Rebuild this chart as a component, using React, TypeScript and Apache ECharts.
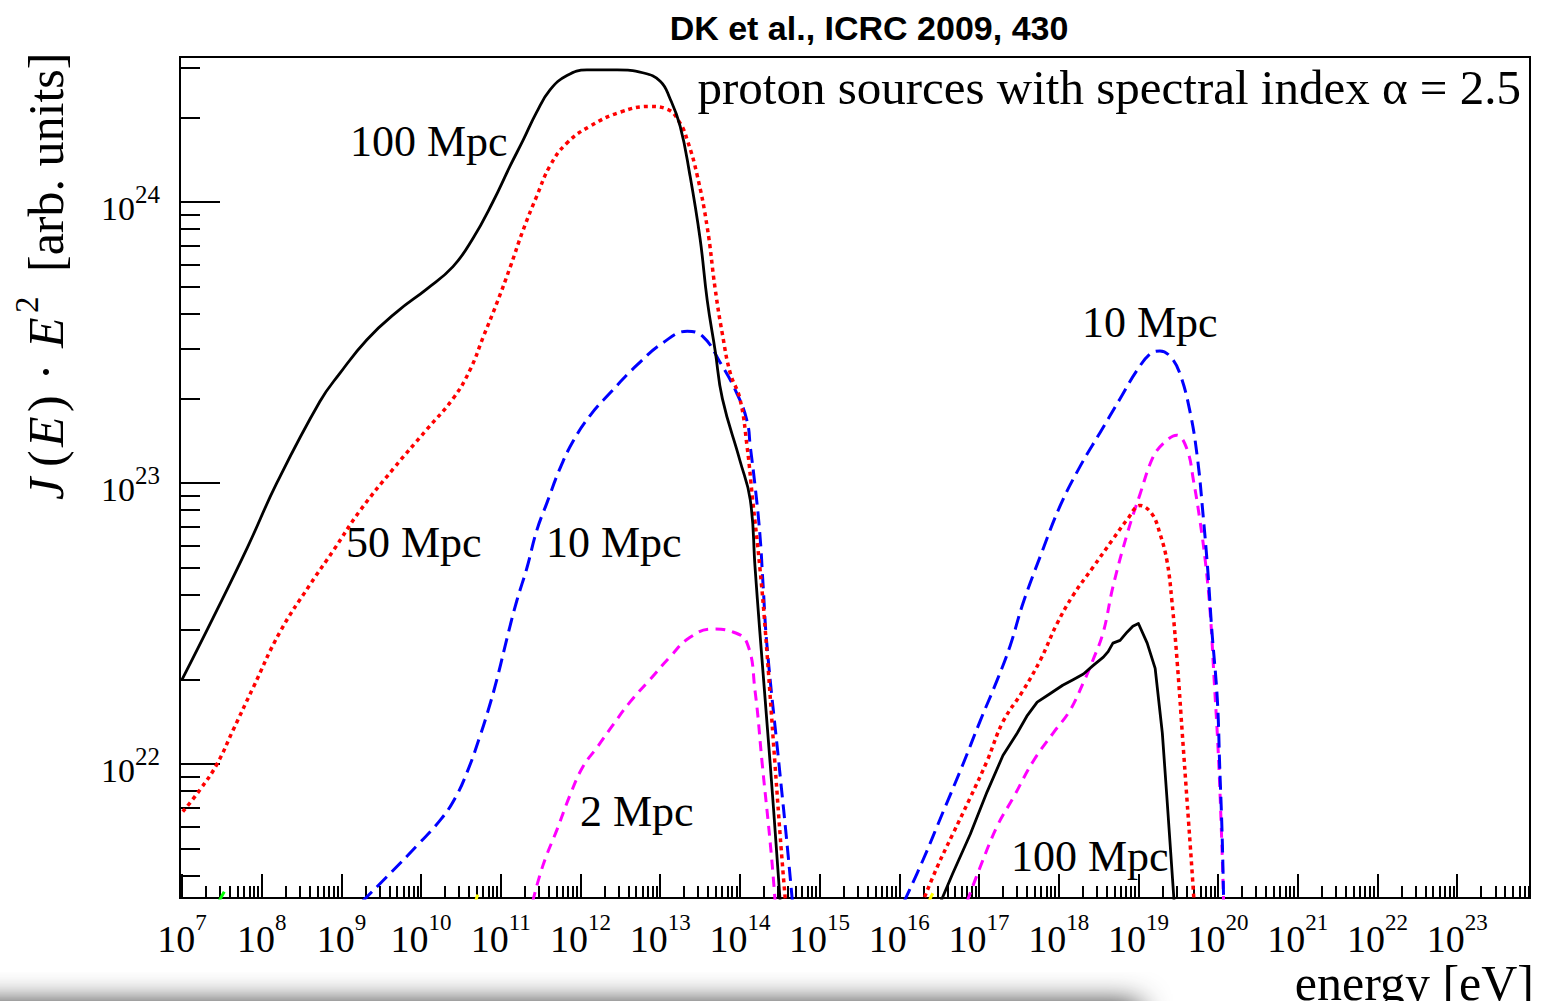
import React, { useEffect, useRef } from 'react';
import * as echarts from 'echarts';

// All curve points are [log10(E / eV), log10(J(E)·E² / arb. units)].
const black100Low: [number, number][] = [
  [7.0, 22.3], [7.39, 22.52], [7.82, 22.77], [8.19, 23.0], [8.73, 23.29], [8.98, 23.39],
  [9.32, 23.51], [9.7, 23.61], [10.07, 23.69], [10.4, 23.77], [10.65, 23.87], [10.9, 24.0], [11.12, 24.13],
  [11.28, 24.22], [11.45, 24.32], [11.62, 24.4], [11.83, 24.45], [12.08, 24.47], [12.46, 24.47],
  [12.78, 24.46], [13.0, 24.43], [13.12, 24.37], [13.25, 24.27], [13.37, 24.1], [13.5, 23.87],
  [13.59, 23.65], [13.69, 23.47], [13.78, 23.3], [14.0, 23.08], [14.13, 22.94], [14.19, 22.7],
  [14.25, 22.47], [14.38, 22.0], [14.46, 21.69], [14.52, 21.45],
];
const red50Low: [number, number][] = [
  [7.01, 21.83], [7.23, 21.91], [7.44, 22.0], [7.64, 22.12], [7.89, 22.27], [8.23, 22.47], [8.61, 22.64],
  [8.9, 22.76], [9.23, 22.9], [9.65, 23.05], [10.07, 23.19], [10.4, 23.3], [10.61, 23.4], [10.78, 23.52],
  [10.95, 23.64], [11.12, 23.77], [11.28, 23.9], [11.45, 24.02], [11.62, 24.13], [11.83, 24.21],
  [12.12, 24.27], [12.5, 24.32], [12.87, 24.34], [13.09, 24.33], [13.25, 24.28], [13.34, 24.22],
  [13.46, 24.1], [13.59, 23.91], [13.69, 23.69], [13.78, 23.53], [13.88, 23.39], [14.0, 23.3],
  [14.09, 23.13], [14.16, 22.94], [14.25, 22.7], [14.32, 22.47], [14.44, 22.0], [14.52, 21.69], [14.59, 21.45],
];
const blue10Low: [number, number][] = [
  [9.26, 21.51], [9.61, 21.61], [9.95, 21.71], [10.24, 21.8], [10.43, 21.88], [10.59, 21.98], [10.74, 22.1],
  [10.83, 22.18], [10.95, 22.3], [11.08, 22.45], [11.2, 22.58], [11.33, 22.7], [11.45, 22.83], [11.58, 22.93],
  [11.74, 23.05], [11.91, 23.15], [12.12, 23.24], [12.37, 23.32], [12.71, 23.42], [13.04, 23.5], [13.34, 23.54],
  [13.54, 23.52], [13.75, 23.43], [13.96, 23.32], [14.09, 23.22], [14.13, 23.13], [14.19, 22.99],
  [14.25, 22.82], [14.29, 22.64], [14.34, 22.42], [14.49, 22.0], [14.6, 21.69], [14.69, 21.41],
];
const magenta2Low: [number, number][] = [
  [11.4, 21.51], [11.53, 21.64], [11.71, 21.77], [11.87, 21.89], [12.03, 21.99], [12.21, 22.06],
  [12.41, 22.14], [12.62, 22.22], [12.87, 22.3], [13.12, 22.38], [13.37, 22.45], [13.66, 22.48],
  [13.91, 22.47], [14.09, 22.43], [14.19, 22.26], [14.28, 22.0], [14.39, 21.69], [14.45, 21.48],
];
const blue10High: [number, number][] = [
  [16.06, 21.51], [16.3, 21.66], [16.55, 21.83], [16.8, 22.0], [17.01, 22.15], [17.23, 22.3], [17.39, 22.42],
  [17.55, 22.57], [17.77, 22.74], [18.02, 22.92], [18.27, 23.06], [18.52, 23.18], [18.77, 23.3],
  [18.98, 23.4], [19.15, 23.46], [19.27, 23.47], [19.4, 23.45], [19.52, 23.39], [19.65, 23.25],
  [19.74, 23.09], [19.81, 22.89], [19.87, 22.69], [19.92, 22.48], [19.99, 22.23], [20.02, 21.99],
  [20.05, 21.75], [20.07, 21.5],
];
const magenta2High: [number, number][] = [
  [16.85, 21.51], [17.01, 21.63], [17.23, 21.78], [17.43, 21.88], [17.68, 22.01], [17.93, 22.11],
  [18.14, 22.19], [18.31, 22.29], [18.43, 22.37], [18.56, 22.47], [18.68, 22.63], [18.86, 22.82],
  [19.02, 22.96], [19.18, 23.09], [19.31, 23.14], [19.48, 23.17], [19.61, 23.12], [19.69, 23.01],
  [19.77, 22.87], [19.84, 22.72], [19.9, 22.54], [19.95, 22.3], [20.0, 22.05], [20.04, 21.77], [20.07, 21.5],
];
const red50High: [number, number][] = [
  [16.28, 21.5], [16.47, 21.63], [16.67, 21.75], [16.89, 21.88], [17.1, 22.01], [17.3, 22.15], [17.55, 22.26],
  [17.77, 22.37], [17.98, 22.5], [18.18, 22.6], [18.43, 22.7], [18.68, 22.8], [18.86, 22.87],
  [19.02, 22.92], [19.17, 22.89], [19.27, 22.82], [19.36, 22.72], [19.42, 22.58], [19.49, 22.35],
  [19.55, 22.11], [19.61, 21.87], [19.67, 21.63], [19.7, 21.5],
];
const black100High: [number, number][] = [
  [16.52, 21.51], [16.67, 21.61], [16.89, 21.75], [17.1, 21.9], [17.3, 22.03], [17.48, 22.11], [17.6, 22.17],
  [17.73, 22.22], [17.89, 22.25], [18.05, 22.28], [18.18, 22.3], [18.31, 22.32], [18.43, 22.35],
  [18.56, 22.38], [18.62, 22.4], [18.68, 22.43], [18.77, 22.44], [18.86, 22.47], [18.93, 22.49],
  [19.0, 22.5], [19.11, 22.43], [19.21, 22.34], [19.3, 22.11], [19.36, 21.87], [19.45, 21.5],
];
// tiny pieces of other curves just peeking above the lower frame
const greenStubs: ([number, number] | null)[] = [[7.44, 21.5], [7.53, 21.545]];
const yellowStubs: ([number, number] | null)[] = [[10.67, 21.5], [10.71, 21.535], null, [16.35, 21.5], [16.42, 21.54]];

// axes: exponents of ten
const xDecades = [7, 8, 9, 10, 11, 12, 13, 14, 15, 16, 17, 18, 19, 20, 21, 22, 23];
const yDecades = [22, 23, 24];
const X_MIN = 6.975;
const X_MAX = 23.913;
const Y_MIN = 21.523;
const Y_MAX = 24.516;

const curveLabels = [
  { text: '100 Mpc', x: 350, y: 141 },
  { text: '50 Mpc', x: 346, y: 542 },
  { text: '10 Mpc', x: 546, y: 542 },
  { text: '2 Mpc', x: 580, y: 811 },
  { text: '10 Mpc', x: 1082, y: 322 },
  { text: '100 Mpc', x: 1011, y: 856 },
];

const SERIF = '"Liberation Serif", "Times New Roman", serif';

function minorTicks(lo: number, hi: number): number[] {
  const out: number[] = [];
  for (let n = Math.floor(lo) - 1; n <= Math.ceil(hi); n++) {
    for (let k = 2; k <= 9; k++) {
      const v = n + Math.log10(k);
      if (v > lo && v < hi) out.push(v);
    }
  }
  return out;
}

function line(data: any[], color: string, width: number, type: any, smooth: number | boolean) {
  return {
    type: 'line',
    data,
    xAxisIndex: 0,
    yAxisIndex: 0,
    showSymbol: false,
    symbol: 'none',
    smooth,
    clip: true,
    connectNulls: false,
    silent: true,
    lineStyle: { color, width, type, cap: 'butt', join: 'round' },
  };
}

export default function App() {
  const ref = useRef<HTMLDivElement>(null);
  useEffect(() => {
    const chart = echarts.init(ref.current!, null, { renderer: 'svg' });
    const tickStyle = { color: '#000', width: 2 };
    const xRich = {
      b: { fontFamily: SERIF, fontSize: 38, lineHeight: 47, verticalAlign: 'bottom', color: '#000' },
      s: { fontFamily: SERIF, fontSize: 23, lineHeight: 24, verticalAlign: 'top', color: '#000' },
    };
    const yRich = {
      b: { fontFamily: SERIF, fontSize: 34, lineHeight: 44, verticalAlign: 'bottom', color: '#000' },
      s: { fontFamily: SERIF, fontSize: 25, lineHeight: 24, verticalAlign: 'top', color: '#000' },
    };
    const fmt = (v: number) => `{b|10}{s|${Math.round(v)}}`;
    const titleMid = -17;
    const txt = (text: string, x: number, y: number, font: string, align = 'left') => ({
      type: 'text', x, y, silent: true,
      style: { text, font, fill: '#000', textAlign: align, textVerticalAlign: 'middle', align, verticalAlign: 'middle' },
    });
    const option: any = {
      animation: false,
      backgroundColor: '#fff',
      grid: {
        left: 180, top: 57, width: 1350, height: 841,
        show: true, borderColor: '#000', borderWidth: 2, backgroundColor: 'transparent',
        containLabel: false, outerBoundsMode: 'none',
      },
      xAxis: [
        {
          type: 'value', position: 'bottom', min: X_MIN, max: X_MAX,
          axisLine: { show: true, onZero: false, lineStyle: { color: '#000', width: 2 } },
          axisTick: { show: true, inside: true, length: 24, lineStyle: tickStyle, customValues: xDecades },
          axisLabel: { show: true, customValues: xDecades, formatter: fmt, rich: xRich, margin: 13 },
          splitLine: { show: false },
        },
        {
          type: 'value', position: 'bottom', min: X_MIN, max: X_MAX,
          axisLine: { show: false, onZero: false },
          axisTick: { show: true, inside: true, length: 12, lineStyle: tickStyle, customValues: minorTicks(X_MIN, X_MAX) },
          axisLabel: { show: false },
          splitLine: { show: false },
        },
      ],
      yAxis: [
        {
          type: 'value', position: 'left', min: Y_MIN, max: Y_MAX,
          axisLine: { show: true, onZero: false, lineStyle: { color: '#000', width: 2 } },
          axisTick: { show: true, inside: true, length: 40, lineStyle: tickStyle, customValues: yDecades },
          axisLabel: { show: true, customValues: yDecades, formatter: fmt, rich: yRich, margin: 20, padding: [4, 0, 0, 0] },
          splitLine: { show: false },
        },
        {
          type: 'value', position: 'left', min: Y_MIN, max: Y_MAX,
          axisLine: { show: false, onZero: false },
          axisTick: { show: true, inside: true, length: 20, lineStyle: tickStyle, customValues: minorTicks(Y_MIN, Y_MAX) },
          axisLabel: { show: false },
          splitLine: { show: false },
        },
      ],
      series: [
        line(greenStubs, '#00ff00', 3, 'solid', false),
        line(yellowStubs, '#ffff00', 3, 'solid', false),
        line(magenta2Low, '#ff00ff', 3, [10, 7], 0.45),
        line(blue10Low, '#0000ff', 3, [14, 7], 0.45),
        line(red50Low, '#ff0000', 3.5, [4, 4], 0.45),
        line(black100Low, '#000000', 2.8, 'solid', 0.45),
        line(magenta2High, '#ff00ff', 3, [10, 7], 0.4),
        line(blue10High, '#0000ff', 3, [14, 7], 0.4),
        line(red50High, '#ff0000', 3.5, [4, 4], 0.4),
        line(black100High, '#000000', 2.8, 'solid', false),
      ],
      graphic: [
        txt('DK et al., ICRC 2009, 430', 869, 28, `bold 34px "Liberation Sans", Arial, sans-serif`, 'center'),
        txt('proton sources with spectral index α = 2.5', 1521, 87, `49px ${SERIF}`, 'right'),
        ...curveLabels.map((l) => txt(l.text, l.x, l.y, `44px ${SERIF}`)),
        txt('energy [eV]', 1534, 983, `50px ${SERIF}`, 'right'),
        {
          type: 'group', x: 63, y: 500, rotation: Math.PI / 2, silent: true,
          children: [
            txt('J', 0, titleMid, `italic 50px ${SERIF}`),
            txt('(', 33, titleMid, `50px ${SERIF}`),
            txt('E', 53, titleMid, `italic 50px ${SERIF}`),
            txt(')', 88, titleMid, `50px ${SERIF}`),
            txt('·', 128, titleMid, `50px ${SERIF}`, 'center'),
            txt('E', 152, titleMid, `italic 50px ${SERIF}`),
            txt('2', 187, -36, `33px ${SERIF}`),
            txt('[arb. units]', 228, titleMid, `50px ${SERIF}`),
          ],
        },
        {
          type: 'rect', silent: true, z: 100,
          shape: { x: -40, y: 1012, width: 1180, height: 40 },
          style: { fill: '#000', shadowBlur: 30, shadowColor: 'rgba(0,0,0,0.9)', shadowOffsetY: -8 },
        },
      ],
    };
    chart.setOption(option);
    return () => chart.dispose();
  }, []);
  return (
    <div
      ref={ref}
      style={{ position: 'fixed', left: 0, top: 0, width: 1558, height: 1001, background: '#fff' }}
    />
  );
}
